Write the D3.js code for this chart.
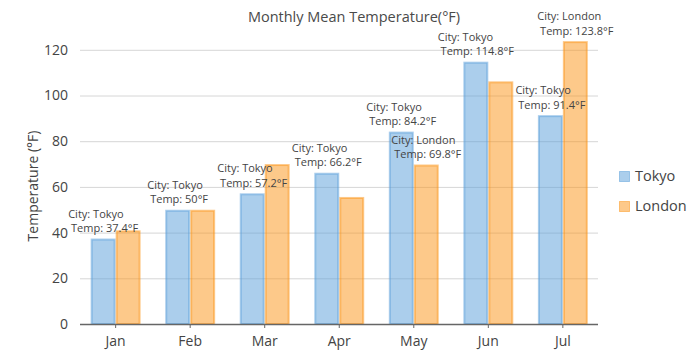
<!DOCTYPE html>
<html>
<head>
<meta charset="utf-8">
<script src="https://cdn.jsdelivr.net/npm/d3@7"></script>
<style>
  html, body { margin: 0; padding: 0; background: #fff; }
  svg { display: block; font-family: "Open Sans", "Noto Sans", sans-serif; }
</style>
</head>
<body>
<svg id="chart" width="697" height="356"></svg>
<script>
const months = ["Jan", "Feb", "Mar", "Apr", "May", "Jun", "Jul"];
const cities = ["Tokyo", "London"];
const tokyo = [37.4, 50, 57.2, 66.2, 84.2, 114.8, 91.4];
const london = [41, 50, 70, 55.6, 69.8, 106.2, 123.8];
const yTicks = [0, 20, 40, 60, 80, 100, 120];
const titleText = "Monthly Mean Temperature(°F)";
const yTitle = "Temperature (°F)";

const seriesValues = [tokyo, london];
const baseColors = ["#579dd9", "#fb9315"];

const svg = d3.select("#chart");
const plot = { left: 80, right: 598, top: 49.8, bottom: 324 };

const x = d3.scaleBand().domain(months).range([78, 600.5]).paddingInner(0.33).paddingOuter(0.17);
const xs = d3.scaleBand().domain(cities).range([0, x.bandwidth()]);
const y = d3.scaleLinear().domain([0, 120]).range([plot.bottom, plot.top]);

// title
svg.append("text").attr("x", 354).attr("y", 22).attr("text-anchor", "middle")
  .attr("font-size", 14.5).attr("fill", "#4a4a4a").text(titleText);

// gridlines
svg.append("g").selectAll("line").data(yTicks.filter(d => d > 0)).join("line")
  .attr("x1", plot.left).attr("x2", plot.right)
  .attr("y1", d => y(d) + 0.5).attr("y2", d => y(d) + 0.5)
  .attr("stroke", "#d6d6d6").attr("stroke-width", 1);

// y tick labels
const yAxis = d3.axisLeft(y).tickValues(yTicks).tickSize(0).tickPadding(12);
const gy = svg.append("g").attr("transform", `translate(${plot.left},0)`).call(yAxis);
gy.select(".domain").remove();
gy.selectAll("text").attr("font-size", 14).attr("fill", "#444").attr("font-family", "Open Sans, sans-serif");

// y title
svg.append("text").attr("transform", `translate(38,186) rotate(-90)`).attr("text-anchor", "middle")
  .attr("font-size", 14).attr("fill", "#444").text(yTitle);

// bars
const groups = svg.append("g").selectAll("g").data(cities).join("g");
groups.each(function(city, si) {
  d3.select(this).selectAll("rect").data(seriesValues[si]).join("rect")
    .attr("x", (d, i) => x(months[i]) + xs(city) + 1)
    .attr("width", xs.bandwidth() - 2)
    .attr("y", d => y(d) + 1)
    .attr("height", d => y(0) - y(d) - 1)
    .attr("fill", baseColors[si]).attr("fill-opacity", 0.5)
    .attr("stroke", baseColors[si]).attr("stroke-opacity", 0.5).attr("stroke-width", 2);
});

// x axis
const xAxis = d3.axisBottom(x).tickSize(4).tickPadding(8);
const gx = svg.append("g").attr("transform", `translate(0,${plot.bottom})`).call(xAxis);
gx.select(".domain").remove();
gx.append("line").attr("x1", plot.left).attr("x2", plot.right).attr("y1", 0.5).attr("y2", 0.5)
  .attr("stroke", "#666").attr("stroke-width", 1.5);
gx.selectAll(".tick line").attr("stroke", "#666");
gx.selectAll("text").attr("font-size", 14).attr("fill", "#444").attr("font-family", "Open Sans, sans-serif");

// data labels with collision hiding
const labelLayer = svg.append("g");
const placed = [];
cities.forEach((city, si) => {
  seriesValues[si].forEach((v, i) => {
    const cx = x(months[i]) + xs(city) + xs.bandwidth() / 2;
    const top = y(v);
    const g = labelLayer.append("g").attr("font-size", 11).attr("fill", "#444");
    const t1 = g.append("text").attr("y", top - 21).text(`City: ${city}`);
    const t2 = g.append("text").attr("y", top - 6.5).attr("xml:space", "preserve").text(` Temp: ${v}°F`);
    const w = Math.max(t1.node().getComputedTextLength(), t2.node().getComputedTextLength());
    const left = cx - w / 2;
    t1.attr("x", left); t2.attr("x", left);
    const box = { x0: left, x1: left + w, y0: top - 33, y1: top - 3 };
    const hit = placed.some(b => !(box.x1 < b.x0 || box.x0 > b.x1 || box.y1 < b.y0 || box.y0 > b.y1));
    if (hit) g.remove(); else placed.push(box);
  });
});

// legend
const lg = svg.append("g").attr("transform", "translate(619,171)");
cities.forEach((city, si) => {
  const row = lg.append("g").attr("transform", `translate(0,${si * 30})`);
  row.append("rect").attr("x", 0.5).attr("y", 0.5).attr("width", 10).attr("height", 10)
    .attr("fill", baseColors[si]).attr("fill-opacity", 0.5)
    .attr("stroke", baseColors[si]).attr("stroke-opacity", 0.5);
  row.append("text").attr("x", 16).attr("y", 10).attr("font-size", 14.5).attr("fill", "#444").text(city);
});
</script>
</body>
</html>
